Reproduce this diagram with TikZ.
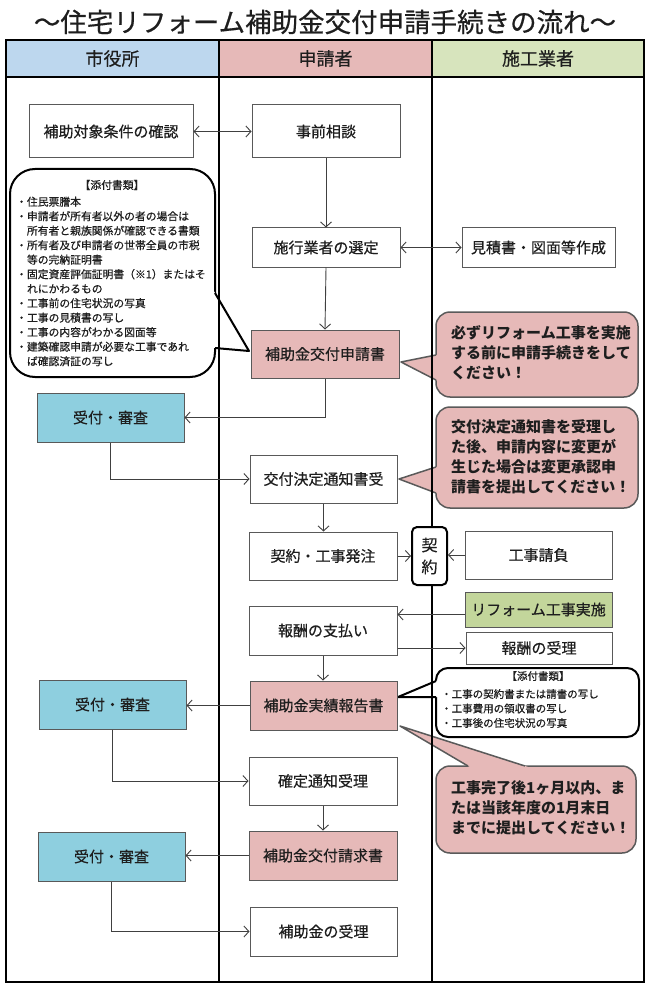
\documentclass[tikz,border=0pt]{standalone}
\usepackage{fontspec}
\setmainfont{Noto Sans CJK JP}
\newfontfamily\jpm{Noto Sans CJK JP}[FakeBold=0.5]
\usetikzlibrary{arrows.meta}
\definecolor{hblue}{HTML}{BDD7EE}
\definecolor{hpink}{HTML}{E6B9B8}
\definecolor{hgreen}{HTML}{D7E4BD}
\definecolor{bcyan}{HTML}{8ECFDF}
\definecolor{bgreen}{HTML}{C3D69B}
\definecolor{bgray}{HTML}{595959}
\definecolor{agray}{HTML}{404040}
\definecolor{cgray}{HTML}{5A5A5A}
\definecolor{txt}{HTML}{1E1E1E}
\begin{document}
\begin{tikzpicture}[x=1pt,y=-1pt,
  box/.style={draw=bgray, line width=1pt, fill=white, inner sep=0pt, text=txt,
    font=\jpm\fontsize{15}{18}\selectfont, minimum width=148pt, minimum height=48pt},
  pinkbox/.style={box, fill=hpink},
  cyanbox/.style={box, fill=bcyan, minimum width=147pt, minimum height=49pt},
  arr/.style={draw=agray, line width=0.9pt, -{Straight Barb[length=5pt,width=11pt]}},
  darr/.style={draw=agray, line width=0.9pt, {Straight Barb[length=5pt,width=11pt]}-{Straight Barb[length=5pt,width=11pt]}},
  tline/.style={draw=black, line width=1.8pt},
  hdr/.style={font=\jpm\fontsize{18}{20}\selectfont, text=txt, inner sep=0pt},
  note/.style={font=\jpm\fontsize{10.8}{14.5}\selectfont, text=txt, inner sep=0pt, align=left},
  ptxt/.style={font=\bfseries\fontsize{15}{20}\selectfont, text=txt, inner sep=0pt, align=left},
  cw/.style={draw=black, line width=2pt, fill=white},
  cwl/.style={draw=black, line width=2pt, line join=round},
  cp/.style={draw=cgray, line width=1.5pt, fill=hpink},
  cpl/.style={draw=cgray, line width=1.5pt, line join=round},
  keibox/.style={draw=black, line width=2pt, fill=white, rounded corners=5pt, inner sep=0pt,
    minimum width=35pt, minimum height=58pt, align=center, text=txt,
    font=\jpm\fontsize{16}{22}\selectfont}
]
\fill[white] (0,0) rectangle (650,992);
\useasboundingbox (0,0) rectangle (650,992);

% title
\node[text=txt, inner sep=0pt, font=\jpm\fontsize{26.5}{30}\selectfont] (title) at (325,22) {～住宅リフォーム補助金交付申請手続きの流れ～};

% header fills
\fill[hblue] (6,40) rectangle (219,77);
\fill[hpink] (219,40) rectangle (432,77);
\fill[hgreen] (432,40) rectangle (644,77);

% callouts (shapes)
\draw[cw, rounded corners=25pt] (10,169) rectangle (215,377);
\fill[white] (211,286.2) -- (249,351) -- (211,347.6) -- cycle;
\draw[cwl] (215,293) -- (249,351) -- (215,348);

\draw[cp, rounded corners=14pt] (436,312) rectangle (638,397);
\fill[hpink] (440,354.2) -- (401,362) -- (440,382.1) -- cycle;
\draw[cpl] (436,355) -- (401,362) -- (436,380);

\draw[cp, rounded corners=14pt] (436,407) rectangle (638,508);
\fill[hpink] (440,465.7) -- (399,479) -- (440,494.5) -- cycle;
\draw[cpl] (436,467) -- (399,479) -- (436,493);

\draw[cw, rounded corners=12pt] (436,668) rectangle (639,737);
\fill[white] (440,679.3) -- (398,697) -- (440,697) -- cycle;
\draw[cwl] (436,681) -- (398,697) -- (436,697);

\draw[cp, rounded corners=14pt] (436,766) rectangle (636,853);
\fill[hpink] (474.8,770) -- (400,726) -- (537.5,770) -- cycle;
\draw[cpl] (468,766) -- (400,726) -- (525,766);

% table lines
\draw[tline] (6,40) rectangle (644,982);
\draw[tline] (6,77) -- (644,77);
\draw[tline] (219,40) -- (219,982);
\draw[tline] (432,40) -- (432,982);

% header texts
\node[hdr] (h1) at (112.5,58.5) {市役所};
\node[hdr] (h2) at (325.5,58.5) {申請者};
\node[hdr] (h3) at (538,58.5) {施工業者};

% callout texts
\node[note] (n1h) at (112,185) {【添付書類】};
\node[note, anchor=west] (n1) at (16,281.5) {・住民票謄本\\・申請者が所有者以外の者の場合は\\　所有者と親族関係が確認できる書類\\・所有者及び申請者の世帯全員の市税\\　等の完納証明書\\・固定資産評価証明書（※1）またはそ\\　れにかわるもの\\・工事前の住宅状況の写真\\・工事の見積書の写し\\・工事の内容がわかる図面等\\・建築確認申請が必要な工事であれ\\　ば確認済証の写し};

\node[ptxt, anchor=west] (p1) at (451,353) {必ずリフォーム工事を実施\\する前に申請手続きをして\\ください！};
\node[ptxt, anchor=west] (p2) at (451,457) {交付決定通知書を受理し\\た後、申請内容に変更が\\生じた場合は変更承認申\\請書を提出してください！};

\node[note, font=\jpm\fontsize{10.5}{14.5}\selectfont] (n2h) at (538,676) {【添付書類】};
\node[note, anchor=west, font=\jpm\fontsize{10.5}{14.5}\selectfont] (n2) at (441,708.5) {・工事の契約書または請書の写し\\・工事費用の領収書の写し\\・工事後の住宅状況の写真};

\node[ptxt, anchor=west] (p3) at (451,807.5) {工事完了後1ヶ月以内、ま\\たは当該年度の1月末日\\までに提出してください！};

% boxes
\node[box, minimum width=164pt, minimum height=53pt] (hojo) at (111,131.5) {補助対象条件の確認};
\node[box, minimum height=53pt] (jizen) at (326,131.5) {事前相談};
\node[box, minimum height=39pt] (sentei) at (326,247.5) {施行業者の選定};
\node[box, minimum width=153pt, minimum height=39pt] (mitsu) at (538.5,247.5) {見積書・図面等作成};
\node[pinkbox] (shinsei) at (325,354) {補助金交付申請書};
\node[cyanbox] (uk1) at (110.5,417.5) {受付・審査};
\node[box, minimum width=147pt] (kofu) at (323.5,479) {交付決定通知書受};
\node[box] (hatchu) at (323,556) {契約・工事発注};
\node[keibox] (kei) at (429.5,556) {契\\約};
\node[box, minimum width=147pt] (ukeoi) at (538.5,555) {工事請負};
\node[box, fill=bgreen, minimum width=147pt, minimum height=35pt] (reform) at (538.5,609.5) {リフォーム工事実施};
\node[box, minimum width=146pt, minimum height=32pt] (juri) at (539,648) {報酬の受理};
\node[box, minimum height=49pt] (houshu) at (323,630.5) {報酬の支払い};
\node[pinkbox, minimum width=147pt, minimum height=49pt] (jisseki) at (323.5,705.5) {補助金実績報告書};
\node[cyanbox] (uk2) at (112.5,704.5) {受付・審査};
\node[box] (kakutei) at (323,781) {確定通知受理};
\node[pinkbox, minimum height=49pt] (seikyu) at (323,855.5) {補助金交付請求書};
\node[cyanbox] (uk3) at (111.5,856.5) {受付・審査};
\node[box, minimum width=147pt, minimum height=49pt] (ukeru) at (323.5,931.5) {補助金の受理};

% connectors
\draw[darr] (hojo.east) -- (jizen.west);
\draw[arr] (jizen.south) -- (sentei.north);
\draw[darr] (sentei.east) -- (mitsu.west);
\draw[arr] (sentei.south) -- (shinsei.north);
\draw[arr] (shinsei.south) |- (uk1.east);
\draw[arr] (uk1.south) |- (kofu.west);
\draw[arr] (kofu.south) -- (kofu.south |- hatchu.north);
\draw[arr] (hatchu.east) -- (kei.west);
\draw[arr] (ukeoi.west) -- (kei.east |- ukeoi.west);
\draw[arr] ([yshift=-5pt]reform.west) -- ([yshift=-5pt]reform.west -| houshu.east);
\draw[arr] (juri.west -| houshu.east) -- (juri.west);
\draw[arr] (houshu.south) -- (houshu.south |- jisseki.north);
\draw[arr] (jisseki.west) -- (jisseki.west -| uk2.east);
\draw[arr] (uk2.south) |- (kakutei.west);
\draw[arr] (kakutei.south) -- (seikyu.north);
\draw[arr] (seikyu.west) -- (seikyu.west -| uk3.east);
\draw[arr] (uk3.south) |- (ukeru.west);
\end{tikzpicture}
\end{document}
